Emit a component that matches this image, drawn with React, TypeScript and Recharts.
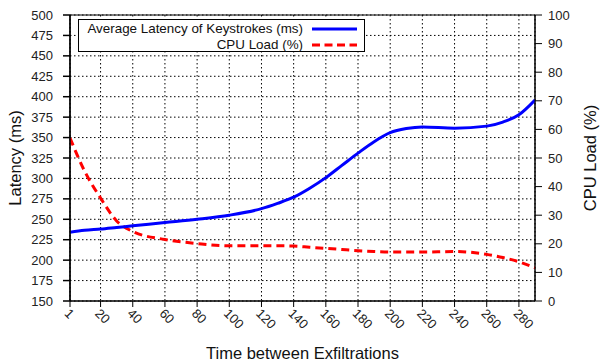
import React from "react";
import {
  LineChart,
  Line,
  XAxis,
  YAxis,
  CartesianGrid,
  Legend,
  ReferenceArea,
} from "recharts";

const xValues = [1, 10, 20, 30, 40, 60, 80, 100, 120, 130, 140, 150, 160, 170, 180, 190, 200, 210, 220, 240, 260, 270, 280, 290];
const latency = [234, 236.5, 238, 240, 242, 246, 250, 255, 263, 269.5, 277, 288, 301, 316, 331, 345, 356, 361, 363, 361.5, 364, 369, 378, 396];
const cpuLoad = [57, 45.5, 36, 28, 24.3, 21.5, 20.1, 19.3, 19.3, 19.3, 19.2, 18.8, 18.4, 18, 17.6, 17.3, 17.1, 17.1, 17.1, 17.3, 16.3, 15.2, 13.7, 11.6];

const xTicks = [1, 20, 40, 60, 80, 100, 120, 140, 160, 180, 200, 220, 240, 260, 280];
const leftTicks = [150, 175, 200, 225, 250, 275, 300, 325, 350, 375, 400, 425, 450, 475, 500];
const rightTicks = [0, 10, 20, 30, 40, 50, 60, 70, 80, 90, 100];

const seriesNames = { latency: "Average Latency of Keystrokes (ms)", cpu: "CPU Load (%)" };
const xTitle = "Time between Exfiltrations";
const leftTitle = "Latency (ms)";
const rightTitle = "CPU Load (%)";

const data = xValues.map((x, i) => ({ x, latency: latency[i], cpu: cpuLoad[i] }));

const FONT = '"Liberation Sans", Arial, Helvetica, sans-serif';

const XTick = (props: any) => {
  const { x, y, payload } = props;
  return (
    <g transform={`translate(${x - 3},${y + 2})`}>
      <text
        transform="rotate(45)"
        x={0}
        y={0}
        dy="0.35em"
        textAnchor="start"
        fontSize={13}
        fill="#222"
        fontFamily={FONT}
      >
        {payload.value}
      </text>
    </g>
  );
};

const legendRows = [
  { name: seriesNames.latency, color: "#0000ff", dash: undefined as string | undefined },
  { name: seriesNames.cpu, color: "#ff0000", dash: "8 4.5" },
];

const LegendContent = () => (
  <svg width={288} height={33} style={{ display: "block" }}>
    <rect x={0.5} y={0.5} width={286} height={32} fill="#fff" stroke="#000" strokeWidth={1} />
    {legendRows.map((r, i) => (
      <g key={r.name}>
        <text
          x={225}
          y={13.5 + i * 16}
          textAnchor="end"
          fontSize={13.4}
          fill="#111"
          fontFamily={FONT}
        >
          {r.name}
        </text>
        <line
          x1={234}
          y1={10 + i * 16}
          x2={279}
          y2={10 + i * 16}
          stroke={r.color}
          strokeWidth={3}
          strokeDasharray={r.dash}
        />
      </g>
    ))}
  </svg>
);

export default function App() {
  return (
    <div style={{ position: "absolute", left: 0, top: 0, width: 600, height: 362, background: "#fff" }}>
      <LineChart
        width={600}
        height={362}
        data={data}
        margin={{ top: 15, right: 0, bottom: 0, left: 0 }}
        style={{ fontFamily: FONT }}
      >
        <CartesianGrid
          yAxisId="left"
          stroke="#000"
          strokeDasharray="1.5 2.5"
          strokeWidth={1}
        />
        <XAxis
          dataKey="x"
          type="number"
          domain={[1, 290]}
          ticks={xTicks}
          height={61}
          tickSize={6}
          tickMargin={2}
          tick={<XTick />}
          stroke="#000"
          interval={0}
          allowDataOverflow
          label={(p: any) => {
            const vb = p.viewBox || { x: 70, y: 301, width: 465, height: 61 };
            return (
              <text
                x={vb.x + vb.width / 2}
                y={vb.y + vb.height - 3}
                textAnchor="middle"
                fontSize={16.5}
                fill="#111"
                fontFamily={FONT}
              >
                {xTitle}
              </text>
            );
          }}
        />
        <YAxis
          yAxisId="left"
          domain={[150, 500]}
          ticks={leftTicks}
          width={70}
          tickSize={7}
          tickMargin={10}
          interval={0}
          stroke="#000"
          strokeWidth={1.5}
          tick={{ fontSize: 13, fill: "#222", fontFamily: FONT }}
          label={(p: any) => {
            const vb = p.viewBox || { x: 0, y: 15, width: 70, height: 286 };
            const cx = vb.x + 15;
            const cy = vb.y + vb.height / 2;
            return (
              <text
                x={cx}
                y={cy}
                transform={`rotate(-90, ${cx}, ${cy})`}
                textAnchor="middle"
                dominantBaseline="central"
                fontSize={16.5}
                fill="#111"
                fontFamily={FONT}
              >
                {leftTitle}
              </text>
            );
          }}
        />
        <YAxis
          yAxisId="right"
          orientation="right"
          domain={[0, 100]}
          ticks={rightTicks}
          width={65}
          tickSize={7}
          tickMargin={6}
          interval={0}
          stroke="#000"
          tick={{ fontSize: 13, fill: "#222", fontFamily: FONT }}
          label={(p: any) => {
            const vb = p.viewBox || { x: 535, y: 15, width: 65, height: 286 };
            const cx = vb.x + 55;
            const cy = vb.y + vb.height / 2;
            return (
              <text
                x={cx}
                y={cy}
                transform={`rotate(-90, ${cx}, ${cy})`}
                textAnchor="middle"
                dominantBaseline="central"
                fontSize={16.5}
                fill="#111"
                fontFamily={FONT}
              >
                {rightTitle}
              </text>
            );
          }}
        />
        <ReferenceArea
          yAxisId="left"
          x1={1}
          x2={290}
          y1={150}
          y2={500}
          fill="none"
          fillOpacity={0}
          stroke="#000"
          strokeWidth={1}
          ifOverflow="extendDomain"
        />
        <Line
          yAxisId="right"
          type="monotone"
          dataKey="cpu"
          name={seriesNames.cpu}
          stroke="#ff0000"
          strokeWidth={3}
          strokeDasharray="8 5"
          dot={false}
          isAnimationActive={false}
        />
        <Line
          yAxisId="left"
          type="monotone"
          dataKey="latency"
          name={seriesNames.latency}
          stroke="#0000ff"
          strokeWidth={3}
          dot={false}
          isAnimationActive={false}
        />
        <Legend
          verticalAlign="middle"
          layout="horizontal"
          content={<LegendContent />}
          wrapperStyle={{ top: 19, left: 78, width: 288, height: 33 }}
        />
      </LineChart>
    </div>
  );
}
